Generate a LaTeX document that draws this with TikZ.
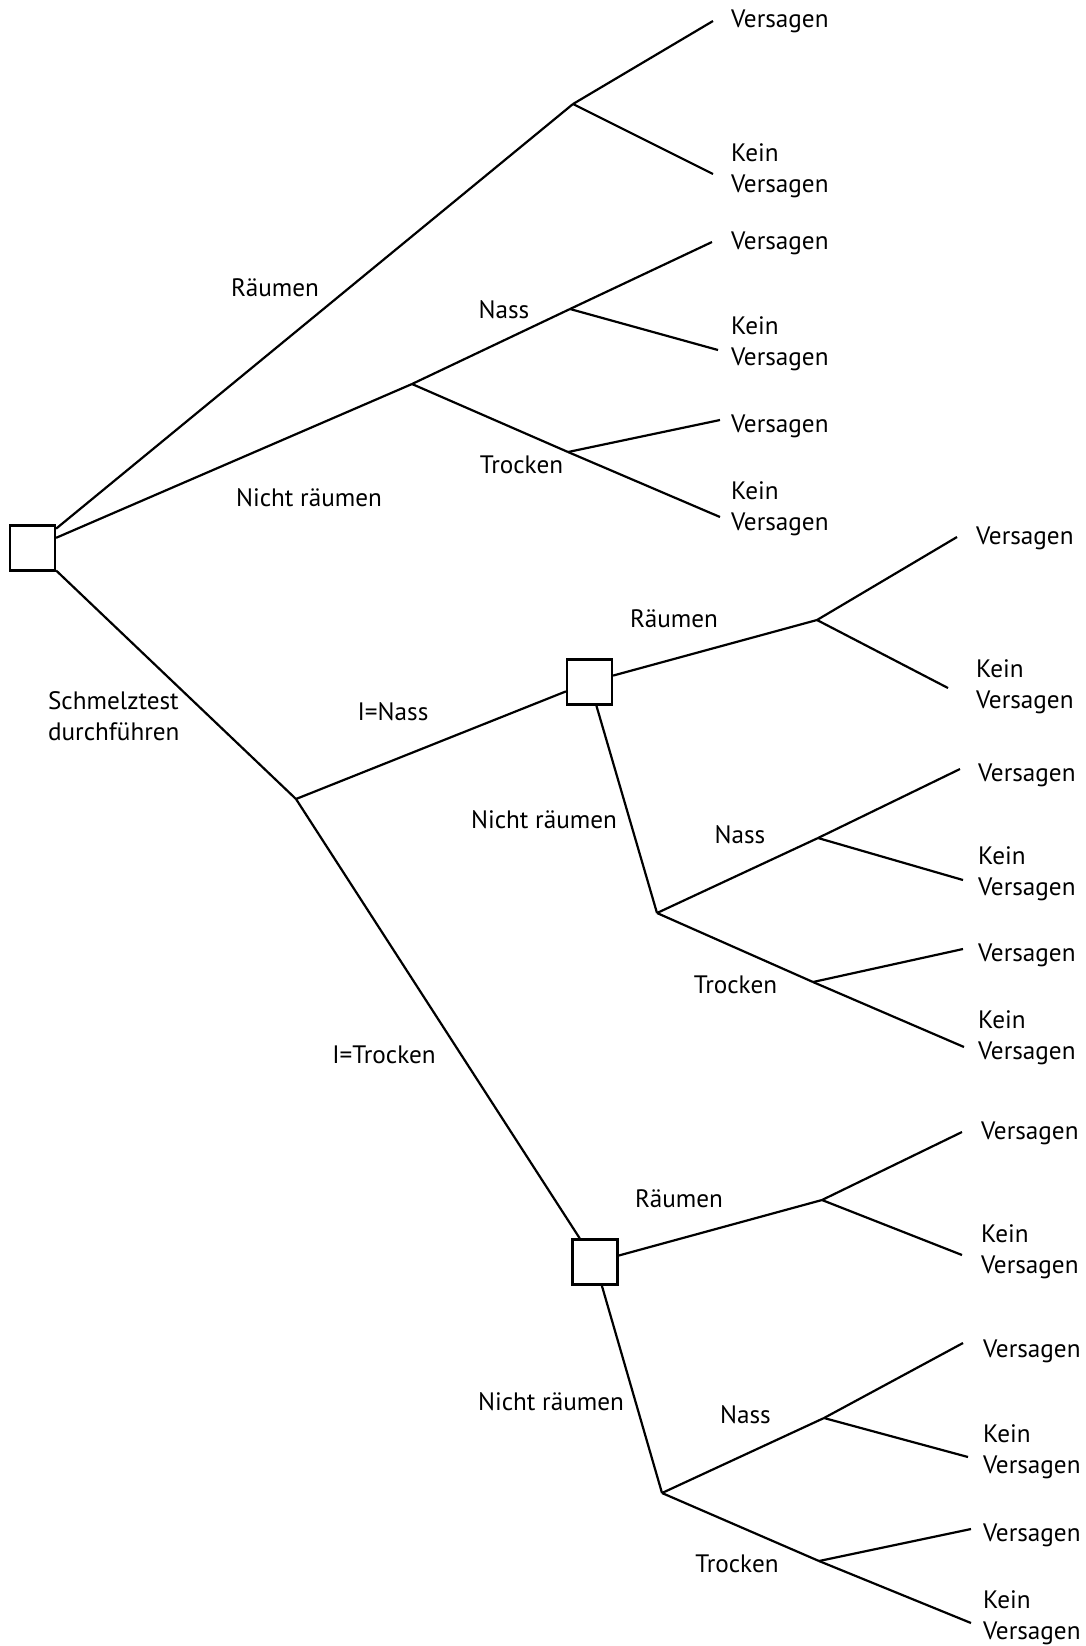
\documentclass[tikz,border=0pt]{standalone}
\usepackage{fontspec}
\setmainfont{PT Sans}
\usepackage{tikz}

\begin{document}
\begin{tikzpicture}[x=0.5pt, y=-0.5pt, line width=1.1pt,
    decision/.style={rectangle, draw=black, fill=white, inner sep=0pt, minimum size=22.5pt},
    branch/.style={font=\fontsize{12.6}{15.5}\selectfont, anchor=base, inner sep=0pt},
    outcome/.style={font=\fontsize{12.6}{15.5}\selectfont, anchor=base west, align=left, inner sep=0pt}]

      \useasboundingbox (0, 0) rectangle (1086, 1646);

      \node[decision] (root) at (32.5, 548) {};
      \node[decision] (dnass) at (589.5, 682) {};
      \node[decision] (dtrocken) at (595, 1262) {};

      \coordinate (raeumen) at (573, 104);
      \coordinate (nicht) at (412, 384);
      \coordinate (nass) at (570, 309);
      \coordinate (trocken) at (568, 452);
      \coordinate (info) at (296, 799);

      \coordinate (v1) at (713, 21);
      \coordinate (k1) at (713, 174);
      \coordinate (v2) at (712, 242);
      \coordinate (k2) at (718, 350);
      \coordinate (v3) at (720, 420);
      \coordinate (k3) at (720, 517);

      \coordinate (raeumenA) at (817, 620);
      \coordinate (nichtA) at (657, 913);
      \coordinate (nassA) at (818, 838);
      \coordinate (trockenA) at (813, 982);

      \coordinate (vA1) at (957, 537);
      \coordinate (kA1) at (948, 688);
      \coordinate (vA2) at (960, 769);
      \coordinate (kA2) at (963, 880);
      \coordinate (vA3) at (963, 949);
      \coordinate (kA3) at (964, 1047);

      \coordinate (raeumenB) at (822, 1200);
      \coordinate (nichtB) at (662, 1493);
      \coordinate (nassB) at (824, 1418);
      \coordinate (trockenB) at (819, 1561);

      \coordinate (vB1) at (962, 1132);
      \coordinate (kB1) at (962, 1255);
      \coordinate (vB2) at (963, 1343);
      \coordinate (kB2) at (968, 1457);
      \coordinate (vB3) at (971, 1529);
      \coordinate (kB3) at (971, 1623);

      \draw (root) -- (raeumen);
      \draw (raeumen) -- (v1);
      \draw (raeumen) -- (k1);
      \draw (root) -- (nicht);
      \draw (nicht) -- (nass);
      \draw (nass) -- (v2);
      \draw (nass) -- (k2);
      \draw (nicht) -- (trocken);
      \draw (trocken) -- (v3);
      \draw (trocken) -- (k3);

      \draw (root) -- (info);
      \draw (info) -- (dnass);
      \draw (info) -- (dtrocken);

      \draw (dnass) -- (raeumenA);
      \draw (raeumenA) -- (vA1);
      \draw (raeumenA) -- (kA1);
      \draw (dnass) -- (nichtA);
      \draw (nichtA) -- (nassA);
      \draw (nassA) -- (vA2);
      \draw (nassA) -- (kA2);
      \draw (nichtA) -- (trockenA);
      \draw (trockenA) -- (vA3);
      \draw (trockenA) -- (kA3);

      \draw (dtrocken) -- (raeumenB);
      \draw (raeumenB) -- (vB1);
      \draw (raeumenB) -- (kB1);
      \draw (dtrocken) -- (nichtB);
      \draw (nichtB) -- (nassB);
      \draw (nassB) -- (vB2);
      \draw (nassB) -- (kB2);
      \draw (nichtB) -- (trockenB);
      \draw (trockenB) -- (vB3);
      \draw (trockenB) -- (kB3);

      \node[branch] (lr0) at (275, 296) {Räumen};
      \node[branch] (ln0) at (309, 506) {Nicht räumen};
      \node[branch] (ls0) at (504, 318) {Nass};
      \node[branch] (lt0) at (521.5, 473) {Trocken};
      \node[outcome] (test) at (47, 740) {Schmelztest\\durchführen};
      \node[branch] (lin) at (393, 720) {I=Nass};
      \node[branch] (lit) at (384, 1063) {I=Trocken};
      \node[branch] (lrA) at (674, 627) {Räumen};
      \node[branch] (lnA) at (544, 828) {Nicht räumen};
      \node[branch] (lsA) at (740, 843) {Nass};
      \node[branch] (ltA) at (735.5, 993) {Trocken};
      \node[branch] (lrB) at (679, 1207) {Räumen};
      \node[branch] (lnB) at (551, 1410) {Nicht räumen};
      \node[branch] (lsB) at (745.5, 1423) {Nass};
      \node[branch] (ltB) at (737, 1572) {Trocken};

      \node[outcome] (tv1) at (730, 27) {Versagen};
      \node[outcome] (tk1) at (730, 192) {Kein\\Versagen};
      \node[outcome] (tv2) at (730, 249) {Versagen};
      \node[outcome] (tk2) at (730, 365) {Kein\\Versagen};
      \node[outcome] (tv3) at (730, 432) {Versagen};
      \node[outcome] (tk3) at (730, 530) {Kein\\Versagen};

      \node[outcome] (tvA1) at (975, 544) {Versagen};
      \node[outcome] (tkA1) at (975, 708) {Kein\\Versagen};
      \node[outcome] (tvA2) at (977, 781) {Versagen};
      \node[outcome] (tkA2) at (977, 895) {Kein\\Versagen};
      \node[outcome] (tvA3) at (977, 961) {Versagen};
      \node[outcome] (tkA3) at (977, 1059) {Kein\\Versagen};

      \node[outcome] (tvB1) at (980, 1139) {Versagen};
      \node[outcome] (tkB1) at (980, 1273) {Kein\\Versagen};
      \node[outcome] (tvB2) at (982, 1357) {Versagen};
      \node[outcome] (tkB2) at (982, 1473) {Kein\\Versagen};
      \node[outcome] (tvB3) at (982, 1541) {Versagen};
      \node[outcome] (tkB3) at (982, 1639) {Kein\\Versagen};

    \end{tikzpicture}
\end{document}
